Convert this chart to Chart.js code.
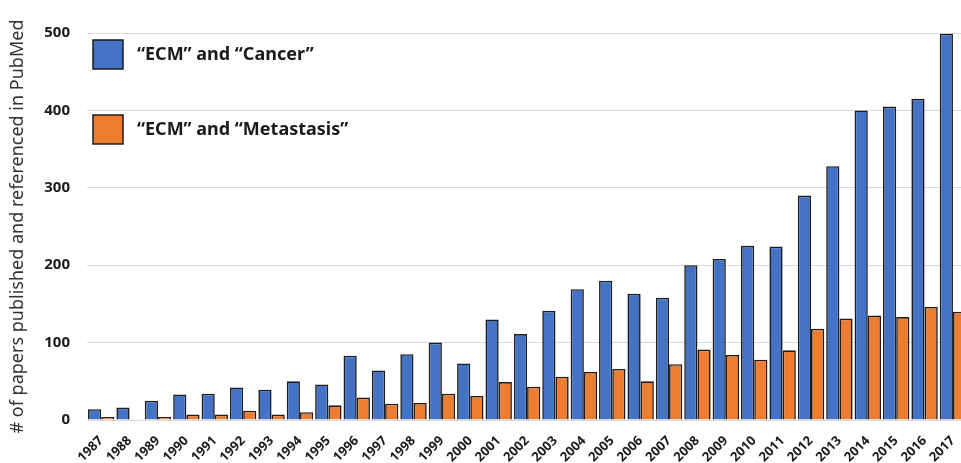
<!DOCTYPE html>
<html>
<head>
<meta charset="utf-8">
<script src="https://cdn.jsdelivr.net/npm/chart.js@4"></script>
<style>
  html, body { margin: 0; padding: 0; background: #fff; overflow: hidden; }
  #wrap { width: 969px; height: 463px; position: relative; }
</style>
</head>
<body>
<div id="wrap"><canvas id="chart"></canvas></div>
<script>
const years = [
  "1987", "1988", "1989", "1990", "1991", "1992", "1993", "1994", "1995", "1996",
  "1997", "1998", "1999", "2000", "2001", "2002", "2003", "2004", "2005", "2006",
  "2007", "2008", "2009", "2010", "2011", "2012", "2013", "2014", "2015", "2016", "2017",
];
const cancer = [
  14, 16, 25, 33, 34, 42, 39, 50, 46, 83,
  64, 85, 100, 73, 130, 111, 141, 169, 180, 163,
  158, 200, 208, 225, 224, 290, 328, 400, 405, 415, 499,
];
const metastasis = [
  4, 1, 4, 7, 7, 12, 7, 10, 19, 29,
  21, 22, 34, 31, 49, 43, 56, 62, 66, 50,
  72, 91, 84, 78, 90, 118, 131, 135, 133, 146, 140,
];
const yTicks = [0, 100, 200, 300, 400, 500];

const fontFamily = "'Noto Sans', sans-serif";

// legend drawn inside the plot, top-left
const boxLegend = {
  id: "boxLegend",
  afterDraw(chart) {
    const ctx = chart.ctx;
    const left = chart.chartArea.left + 6;
    const rows = [40, 115];
    ctx.save();
    chart.data.datasets.forEach((ds, i) => {
      const y = rows[i];
      ctx.fillStyle = ds.backgroundColor;
      ctx.fillRect(left, y, 30, 29);
      ctx.strokeStyle = "#1c1c1c";
      ctx.lineWidth = 1.5;
      ctx.strokeRect(left, y, 30, 29);
      ctx.fillStyle = "#1a1a1a";
      ctx.font = "bold 18px " + fontFamily;
      ctx.textBaseline = "middle";
      ctx.fillText(ds.label, left + 44, y + 15);
    });
    ctx.restore();
  },
};

const chart = document.querySelector("#chart").getContext("2d");

new Chart(chart, {
  type: "bar",
  data: {
    labels: years,
    datasets: [
      {
        label: "\u201CECM\u201D and \u201CCancer\u201D",
        data: cancer,
        backgroundColor: "#4472C4",
        borderColor: "#1c1c1c",
        borderWidth: 1.6,
      },
      {
        label: "\u201CECM\u201D and \u201CMetastasis\u201D",
        data: metastasis,
        backgroundColor: "#ED7D31",
        borderColor: "#1c1c1c",
        borderWidth: 1.6,
      },
    ],
  },
  options: {
    responsive: true,
    maintainAspectRatio: false,
    animation: false,
    layout: { padding: { top: 33, left: 0, right: 0, bottom: 0 } },
    datasets: {
      bar: { categoryPercentage: 0.93, barPercentage: 1 },
    },
    plugins: {
      legend: { display: false },
      tooltip: { enabled: false },
    },
    scales: {
      x: {
        grid: { display: false },
        border: { display: false },
        ticks: {
          minRotation: 45,
          maxRotation: 45,
          padding: 5,
          color: "#1a1a1a",
          font: { family: fontFamily, size: 13, weight: "bold" },
        },
        afterFit(scale) {
          scale.height = 43;
        },
      },
      y: {
        min: 0,
        max: 500,
        afterBuildTicks(scale) {
          scale.ticks = yTicks.map((v) => ({ value: v }));
        },
        grid: { color: "#d9d9d9", lineWidth: 1, drawTicks: false },
        border: { display: false },
        ticks: {
          padding: 17,
          color: "#1a1a1a",
          font: { family: fontFamily, size: 15, weight: "bold" },
        },
        title: {
          display: true,
          text: "# of papers published and referenced in PubMed",
          color: "#333333",
          padding: { top: 7, bottom: 0 },
          font: { family: fontFamily, size: 18 },
        },
        afterFit(scale) {
          scale.width = 87;
        },
      },
    },
  },
  plugins: [boxLegend],
});
</script>
</body>
</html>
